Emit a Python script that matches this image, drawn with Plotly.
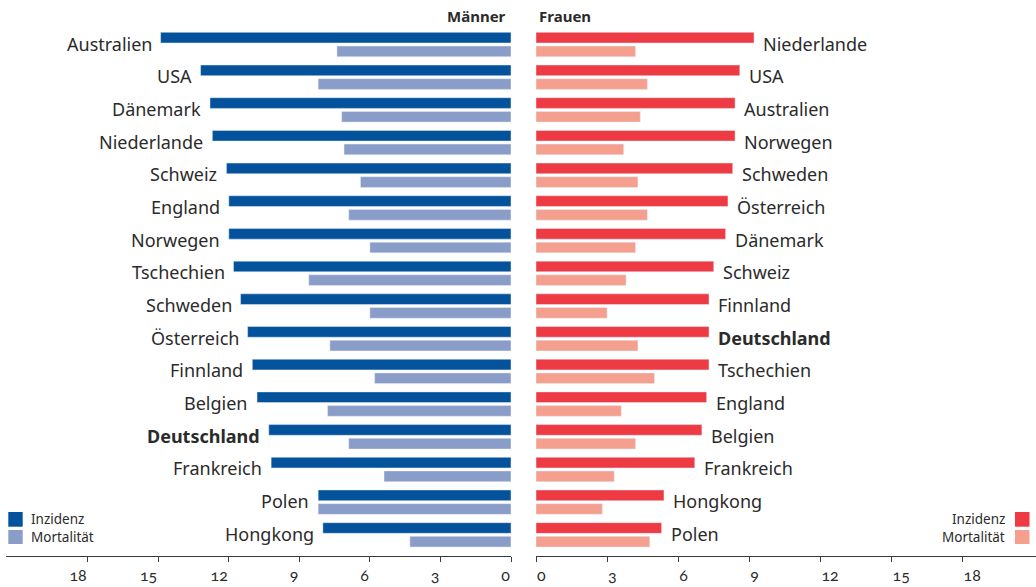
import plotly.graph_objects as go

W, H = 1036, 587

# Männer, sortiert nach Inzidenz
men_countries = ["Australien", "USA", "Dänemark", "Niederlande", "Schweiz", "England",
                 "Norwegen", "Tschechien", "Schweden", "Österreich", "Finnland", "Belgien",
                 "Deutschland", "Frankreich", "Polen", "Hongkong"]
men_incidence = [14.9, 13.2, 12.8, 12.7, 12.1, 12.0, 12.0, 11.8, 11.5, 11.2, 11.0, 10.8,
                 10.3, 10.2, 8.2, 8.0]
men_mortality = [7.4, 8.2, 7.2, 7.1, 6.4, 6.9, 6.0, 8.6, 6.0, 7.7, 5.8, 7.8,
                 6.9, 5.4, 8.2, 4.3]

# Frauen, sortiert nach Inzidenz
women_countries = ["Niederlande", "USA", "Australien", "Norwegen", "Schweden", "Österreich",
                   "Dänemark", "Schweiz", "Finnland", "Deutschland", "Tschechien", "England",
                   "Belgien", "Frankreich", "Hongkong", "Polen"]
women_incidence = [9.2, 8.6, 8.4, 8.4, 8.3, 8.1, 8.0, 7.5, 7.3, 7.3, 7.3, 7.2,
                   7.0, 6.7, 5.4, 5.3]
women_mortality = [4.2, 4.7, 4.4, 3.7, 4.3, 4.7, 4.2, 3.8, 3.0, 4.3, 5.0, 3.6,
                   4.2, 3.3, 2.8, 4.8]

tick_values = [0, 3, 6, 9, 12, 15, 18]
highlight = "Deutschland"

MEN_INC, MEN_MORT = "#03529b", "#8a9cc8"
WOMEN_INC, WOMEN_MORT = "#ee3a43", "#f5a08e"
TEXT = "#2b2b2b"
AXIS = "#3a3a3a"
FONT = "Noto Sans"
TICK_FONT = "Lato"

BAR_W = 0.327
OFF_INC, OFF_MORT = -0.373, 0.046


def px(x):
    return x / W


def py(y):
    return 1 - y / H


pos_m = list(range(len(men_countries)))
pos_w = list(range(len(women_countries)))

fig = go.Figure()
fig.add_trace(go.Bar(y=pos_m, x=men_incidence, orientation="h", marker_color=MEN_INC,
                     width=BAR_W, offset=OFF_INC, xaxis="x", yaxis="y", name="Inzidenz",
                     hoverinfo="x"))
fig.add_trace(go.Bar(y=pos_m, x=men_mortality, orientation="h", marker_color=MEN_MORT,
                     width=BAR_W, offset=OFF_MORT, xaxis="x", yaxis="y", name="Mortalität",
                     hoverinfo="x"))
fig.add_trace(go.Bar(y=pos_w, x=women_incidence, orientation="h", marker_color=WOMEN_INC,
                     width=BAR_W, offset=OFF_INC, xaxis="x2", yaxis="y2", name="Inzidenz",
                     hoverinfo="x"))
fig.add_trace(go.Bar(y=pos_w, x=women_mortality, orientation="h", marker_color=WOMEN_MORT,
                     width=BAR_W, offset=OFF_MORT, xaxis="x2", yaxis="y2", name="Mortalität",
                     hoverinfo="x"))

annotations = []
# Ländernamen neben den Inzidenzbalken
for i, (c, v) in enumerate(zip(men_countries, men_incidence)):
    label = f"<b>{c}</b>" if c == highlight else c
    annotations.append(dict(x=v, y=i, xref="x", yref="y", text=label, showarrow=False,
                            xanchor="right", yanchor="middle", xshift=-7, yshift=1,
                            font=dict(size=18, color=TEXT, family=FONT)))
for i, (c, v) in enumerate(zip(women_countries, women_incidence)):
    label = f"<b>{c}</b>" if c == highlight else c
    annotations.append(dict(x=v, y=i, xref="x2", yref="y2", text=label, showarrow=False,
                            xanchor="left", yanchor="middle", xshift=7, yshift=1,
                            font=dict(size=18, color=TEXT, family=FONT)))

# Überschriften
annotations.append(dict(x=px(508), y=py(16), xref="paper", yref="paper", text="<b>Männer</b>",
                        showarrow=False, xanchor="right", yanchor="middle",
                        font=dict(size=15, color=TEXT, family=FONT)))
annotations.append(dict(x=px(537), y=py(16), xref="paper", yref="paper", text="<b>Frauen</b>",
                        showarrow=False, xanchor="left", yanchor="middle",
                        font=dict(size=15, color=TEXT, family=FONT)))

# Legenden
shapes = []
legend_rows = [("Inzidenz", 512, 526.7), ("Mortalität", 530, 544)]
for (txt, y0, y1), cl, cr in zip(legend_rows, [MEN_INC, MEN_MORT], [WOMEN_INC, WOMEN_MORT]):
    shapes.append(dict(type="rect", xref="paper", yref="paper", x0=px(8.3), x1=px(22.7),
                       y0=py(y1), y1=py(y0), fillcolor=cl, line=dict(width=0)))
    shapes.append(dict(type="rect", xref="paper", yref="paper", x0=px(1015), x1=px(1029.5),
                       y0=py(y1), y1=py(y0), fillcolor=cr, line=dict(width=0)))
    yc = py((y0 + y1) / 2)
    annotations.append(dict(x=px(29), y=yc, xref="paper", yref="paper", text=txt,
                            showarrow=False, xanchor="left", yanchor="middle",
                            font=dict(size=13.5, color=TEXT, family=FONT)))
    annotations.append(dict(x=px(1007), y=yc, xref="paper", yref="paper", text=txt,
                            showarrow=False, xanchor="right", yanchor="middle",
                            font=dict(size=13.5, color=TEXT, family=FONT)))

axis_common = dict(
    showgrid=False, zeroline=False, showline=True, linecolor=AXIS, linewidth=1,
    ticks="outside", ticklen=5, tickwidth=1, tickcolor=AXIS,
    tickvals=tick_values, ticktext=[str(t) for t in tick_values],
    tickfont=dict(size=16, color=TEXT, family=TICK_FONT), ticklabelstandoff=5,
    automargin=False, fixedrange=True,
)

y_bottom = 556
yrange = [(y_bottom - 44.5) / 32.69, -44.5 / 32.69]

fig.update_layout(
    width=W, height=H,
    margin=dict(l=0, r=0, t=0, b=0),
    paper_bgcolor="white", plot_bgcolor="white",
    showlegend=False, barmode="overlay",
    font=dict(family=FONT, color=TEXT),
    xaxis=dict(domain=[px(6), px(511)], range=[(510 - 6) / 23.47, 0],
               anchor="y", ticklabelposition="outside left", **axis_common),
    xaxis2=dict(domain=[px(536), 1], range=[0, 500 / 23.7],
                anchor="y2", ticklabelposition="outside right", **axis_common),
    yaxis=dict(domain=[py(y_bottom), 1], range=yrange, visible=False, fixedrange=True),
    yaxis2=dict(domain=[py(y_bottom), 1], range=yrange, visible=False, fixedrange=True,
                anchor="x2"),
    annotations=annotations,
    shapes=shapes,
)

fig.write_html(
    "out.html",
    post_script="document.querySelectorAll('.plotly-graph-div').forEach(function(d){d.style.fontFeatureSettings='\"onum\"';});",
)
